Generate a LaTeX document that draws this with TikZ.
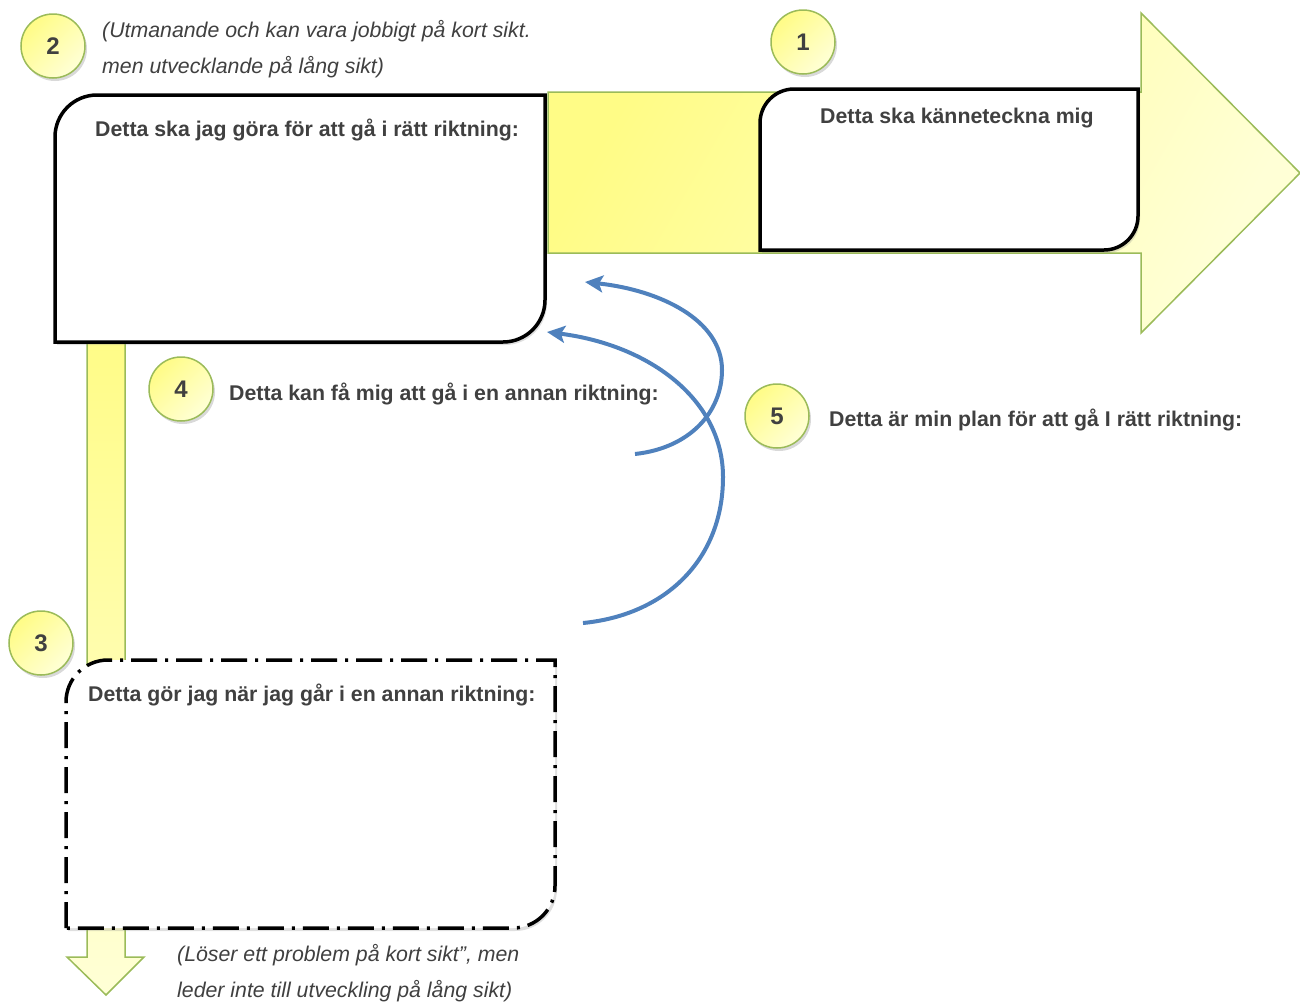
\documentclass[tikz,border=0pt]{standalone}
\usepackage{fontspec}
\setmainfont{Liberation Sans}
\usetikzlibrary{shadows,arrows.meta}
\definecolor{txtgrey}{HTML}{404040}
\definecolor{arrowgreen}{HTML}{9BBB59}
\definecolor{yelA}{HTML}{FFFC86}
\definecolor{yelB}{HTML}{FFFFD6}
\definecolor{bluearc}{HTML}{4F81BD}
\tikzset{
  bigarrow/.style={draw=arrowgreen, line width=1.5pt, shading=axis, left color=yelA, right color=yelB, shading angle=60},
  boxline/.style={draw=black, line width=3.5pt, fill=white, drop shadow={shadow xshift=2pt, shadow yshift=-3pt, opacity=0.25}},
  dashbox/.style={boxline, dash pattern=on 26pt off 8pt on 3pt off 8pt},
  numcirc/.style={circle, draw=arrowgreen, line width=1.5pt, minimum size=64pt, inner sep=0pt,
    left color=yelA, right color=yelB, shading angle=45,
    font=\fontsize{24}{24}\selectfont\bfseries, text=txtgrey,
    drop shadow={shadow xshift=2pt, shadow yshift=-3pt, opacity=0.3}},
  boldlabel/.style={anchor=base west, inner sep=0pt, font=\fontsize{21.3}{21.3}\selectfont\bfseries, text=txtgrey},
  italabel/.style={anchor=base west, inner sep=0pt, font=\fontsize{21.3}{36}\selectfont\itshape, text=txtgrey, align=left},
  bluecurve/.style={draw=bluearc, line width=4pt, -{Stealth[length=18pt,width=17pt,inset=4pt]}}
}
\begin{document}
\begin{tikzpicture}[x=1pt,y=-1pt]
\useasboundingbox (0,0) rectangle (1300,1002);
% vertical arrow (down)
\path[bigarrow, shading angle=0, top color=yelA, bottom color=yelB] (87,330) -- (125,330) -- (125,957) -- (144,957) -- (106,995) -- (67,957) -- (87,957) -- cycle;
% horizontal arrow (right)
\path[bigarrow] (548,92) -- (1141,92) -- (1141,13) -- (1300,173) -- (1141,333) -- (1141,253) -- (548,253) -- cycle;
% box 2
\path[boxline] (55,342) [rounded corners=42pt] -- (55,95) [sharp corners] -- (545,95) [rounded corners=42pt] -- (545,342) [sharp corners] -- cycle;
% box 1
\path[boxline] (760,250) [rounded corners=34pt] -- (760,89) [sharp corners] -- (1138,89) [rounded corners=34pt] -- (1138,250) [sharp corners] -- cycle;
% box 3
\path[dashbox] (66,928) [rounded corners=42pt] -- (66,660) [sharp corners] -- (555,660) [rounded corners=42pt] -- (555,928) [sharp corners] -- cycle;
% texts
\node[boldlabel] (t2) at (95,136) {Detta ska jag göra för att gå i rätt riktning:};
\node[boldlabel] (t1) at (820,123) {Detta ska känneteckna mig};
\node[boldlabel] (t4) at (229,400) {Detta kan få mig att gå i en annan riktning:};
\node[boldlabel] (t5) at (829,426) {Detta är min plan för att gå I rätt riktning:};
\node[boldlabel] (t3) at (88,701) {Detta gör jag när jag går i en annan riktning:};
\node[italabel] (i2a) at (102,37) {(Utmanande och kan vara jobbigt på kort sikt.};
\node[italabel] (i2b) at (102,73) {men utvecklande på lång sikt)};
\node[italabel] (i3a) at (177,961) {(Löser ett problem på kort sikt”, men};
\node[italabel] (i3b) at (177,997) {leder inte till utveckling på lång sikt)};
% number circles
\node[numcirc] (c1) at (803,42) {1};
\node[numcirc] (c2) at (53,46) {2};
\node[numcirc] (c3) at (41,643) {3};
\node[numcirc] (c4) at (181,389) {4};
\node[numcirc] (c5) at (777,416) {5};
% blue arcs
\coordinate (aS) at (635,454);
\coordinate (aP) at (722,370);
\coordinate (aE) at (585,282);
\coordinate (bS) at (583,623);
\coordinate (bP) at (723,477);
\coordinate (bE) at (547,332);
\draw[bluecurve] (aS) .. controls (690,448) and (722,412) .. (aP) .. controls (722,320) and (660,290) .. (aE);
\draw[bluecurve] (bS) .. controls (665,615) and (723,560) .. (bP) .. controls (723,400) and (650,345) .. (bE);
\end{tikzpicture}
\end{document}
